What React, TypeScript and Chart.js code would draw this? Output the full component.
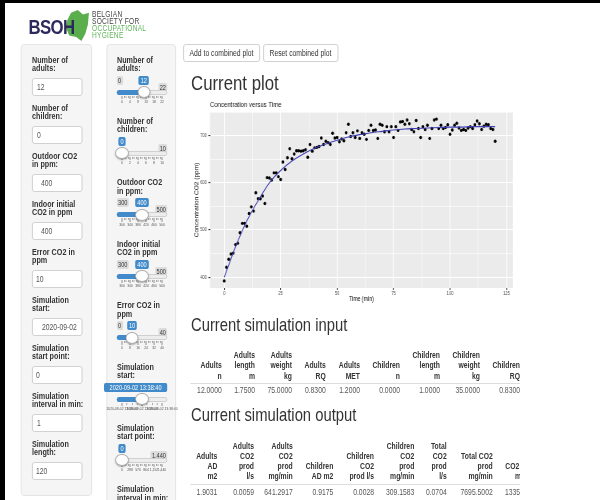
import React, { useEffect, useRef } from "react";
import { Chart, registerables } from "chart.js";
Chart.register(...registerables);

const FONT = '"Liberation Sans", Arial, Helvetica, sans-serif';
const S = 0.8;
const X = (x: number) => x / S;

// ---------- chart data ----------
const timeMin = [
  0, 1, 2, 3, 4, 5, 6, 7, 8, 9, 10, 11, 12, 13, 14, 15, 16, 17, 18, 19, 20,
  21, 22, 23, 24, 25, 26, 27, 28, 29, 30, 31, 32, 33, 34, 35, 36, 37, 38, 39, 40,
  41, 42, 43, 44, 45, 46, 47, 48, 49, 50, 51, 52, 53, 54, 55, 56, 57, 58, 59, 60,
  61, 62, 63, 64, 65, 66, 67, 68, 69, 70, 71, 72, 73, 74, 75, 76, 77, 78, 79, 80,
  81, 82, 83, 84, 85, 86, 87, 88, 89, 90, 91, 92, 93, 94, 95, 96, 97, 98, 99, 100,
  101, 102, 103, 104, 105, 106, 107, 108, 109, 110, 111, 112, 113, 114, 115, 116, 117, 118, 119, 120,
];
const co2Ppm = [
  392, 421, 438, 449, 451, 469, 472, 494, 514, 514, 508, 535, 549, 540, 579, 566, 566, 572, 556, 611, 610,
  606, 621, 621, 613, 607, 644, 628, 653, 672, 651, 661, 668, 668, 667, 668, 670, 654, 681, 667, 674,
  675, 677, 695, 681, 688, 685, 681, 705, 695, 696, 687, 693, 689, 706, 724, 698, 706, 696, 710, 694,
  706, 703, 692, 711, 722, 711, 712, 694, 724, 722, 708, 719, 708, 719, 696, 719, 711, 729, 730, 724,
  733, 725, 713, 708, 732, 715, 696, 719, 713, 722, 694, 715, 733, 735, 715, 722, 715, 717, 723, 703,
  712, 722, 726, 716, 711, 713, 711, 716, 719, 715, 723, 731, 725, 713, 720, 724, 723, 715, 713, 688,
];
const fitTime = [0, 5, 10, 15, 20, 25, 30, 35, 40, 45, 50, 55, 60, 65, 70, 75, 80, 85, 90, 95, 100, 105, 110, 115, 120];
const fitPpm = [400, 464, 519, 562, 600, 626, 646, 661, 673, 682, 690, 697, 702, 706, 709, 712, 714, 715, 716, 717, 718, 718, 719, 719, 719];
const xTickValues = [0, 25, 50, 75, 100, 125];
const xMinorValues = [12.5, 37.5, 62.5, 87.5, 112.5];
const yTickValues = [400, 500, 600, 700];
const yMinorValues = [450, 550, 650, 750];

// ---------- page data ----------
const leftLabels = [
  ["Number of", "adults:"],
  ["Number of", "children:"],
  ["Outdoor CO2", "in ppm:"],
  ["Indoor initial", "CO2 in ppm"],
  ["Error CO2 in", "ppm"],
  ["Simulation", "start:"],
  ["Simulation", "start point:"],
  ["Simulation", "interval in min:"],
  ["Simulation", "length:"],
];
const leftValues = ["12", "0", "400", "400", "10", "2020-09-02", "0", "1", "120"];

const sliderLabels = [
  ["Number of", "adults:"],
  ["Number of", "children:"],
  ["Outdoor CO2", "in ppm:"],
  ["Indoor initial", "CO2 in ppm"],
  ["Error CO2 in", "ppm"],
  ["Simulation", "start:"],
  ["Simulation", "start point:"],
  ["Simulation", "interval in min:"],
];
const sliderFrac = [12 / 22, 0, 0.5, 0.5, 0.25, 0.5, 0];
const sliderValue = ["12", "0", "400", "400", "10", "2020-09-02 13:38:40", "0"];
const sliderMin = ["0", "0", "300", "300", "0", "", "0"];
const sliderMax = ["22", "10", "500", "500", "40", "", "1,440"];
const sliderGrid = [
  ["0", "4", "9", "13", "18", "22"],
  ["0", "2", "4", "6", "8", "10"],
  ["300", "340", "380", "420", "460", "500"],
  ["300", "340", "380", "420", "460", "500"],
  ["0", "8", "16", "24", "32", "40"],
  ["2020-09-02 13:38:40", "2020-09-02 13:38:40", "2020-09-02 13:38:40"],
  ["0", "288", "576", "864", "1,152", "1,440"],
];

const inputHeaders = [
  ["", "Adults", "n"], ["Adults", "length", "m"], ["Adults", "weight", "kg"],
  ["", "Adults", "RQ"], ["", "Adults", "MET"], ["", "Children", "n"],
  ["Children", "length", "m"], ["Children", "weight", "kg"], ["", "Children", "RQ"],
];
const inputValues = ["12.0000", "1.7500", "75.0000", "0.8300", "1.2000", "0.0000", "1.0000", "35.0000", "0.8300"];
const outputHeaders = [
  ["", "Adults", "AD", "m2"], ["Adults", "CO2", "prod", "l/s"], ["Adults", "CO2", "prod", "mg/min"],
  ["", "", "Children", "AD m2"], ["", "Children", "CO2", "prod l/s"], ["Children", "CO2", "prod", "mg/min"],
  ["Total", "CO2", "prod", "l/s"], ["", "Total CO2", "prod", "mg/min"], ["", "", "CO2 conc", "mg/m3"],
];
const outputValues = ["1.9031", "0.0059", "641.2917", "0.9175", "0.0028", "309.1583", "0.0704", "7695.5002", "1335"];

// ---------- layout (positions only) ----------
const inputRight = [221.7, 255, 292, 325.7, 360, 400, 440, 480, 520];
const outputRight = [217.3, 254, 292.7, 333.3, 374, 414.3, 446.7, 492.7, 537];
const leftValueX = [37, 37, 41, 41, 36, 42, 36, 37, 36];

type TP = {
  x: number; y: number; t: string; size: number; bold?: boolean; color?: string;
  align?: "left" | "right" | "center"; ls?: number;
};
function T({ x, y, t, size, bold, color = "#333", align = "left", ls = 0 }: TP) {
  const W = 400;
  let left = X(x);
  if (align === "right") left = X(x) - W;
  if (align === "center") left = X(x) - W / 2;
  return (
    <div
      style={{
        position: "absolute", left, top: y - size * 0.5,
        width: align === "left" ? undefined : W, textAlign: align,
        fontSize: size, lineHeight: `${size}px`, fontWeight: bold ? 700 : 400,
        color, whiteSpace: "nowrap", letterSpacing: ls, fontFamily: FONT,
      }}
    >
      {t}
    </div>
  );
}

function Box({ x, y, w, h, style }: { x: number; y: number; w: number; h: number; style?: any }) {
  return <div style={{ position: "absolute", left: X(x), top: y, width: X(w), height: h, boxSizing: "border-box", ...style }} />;
}

function Slider({ L, frac, val, min, max, grid }: { L: number; frac: number; val: string; min: string; max: string; grid: string[] }) {
  const ty = L + 32;
  const hx = 122 + frac * 40;
  const bw = val.length * 3.1 + 4;
  let bc = Math.max(hx, 117 + bw / 2);
  bc = Math.min(bc, 167 - bw / 2);
  const showMin = min !== "" && bc - bw / 2 > 117 + min.length * 3.1 + 5;
  const showMax = max !== "" && bc + bw / 2 < 167 - max.length * 3.1 - 5;
  const majors = grid.length;
  const gridX = (i: number) => 122 + (i * 40) / (majors - 1);
  const minorTicks: number[] = [];
  for (let i = 0; i < majors - 1; i++) {
    for (let k = 1; k < 4; k++) minorTicks.push(gridX(i) + ((gridX(i + 1) - gridX(i)) * k) / 4);
  }
  return (
    <>
      {showMin && (
        <div style={{ position: "absolute", left: X(116.5), top: L + 15.5, height: 9, lineHeight: "9px", fontSize: 7, padding: "0 2px", background: "rgba(0,0,0,0.1)", color: "#333", borderRadius: 2, fontFamily: FONT }}>{min}</div>
      )}
      {showMax && (
        <div style={{ position: "absolute", left: X(167.5) - 100, width: 100, textAlign: "right", top: L + 15.5, height: 9 }}>
          <span style={{ display: "inline-block", height: 9, lineHeight: "9px", fontSize: 7, padding: "0 2px", background: "rgba(0,0,0,0.1)", color: "#333", borderRadius: 2, fontFamily: FONT }}>{max}</span>
        </div>
      )}
      <div style={{ position: "absolute", left: X(bc - bw / 2), width: X(bw), top: L + 15.5, height: 9, lineHeight: "9px", fontSize: 7, textAlign: "center", background: "#428bca", color: "#fff", borderRadius: 2, fontFamily: FONT, whiteSpace: "nowrap" }}>{val}</div>
      <Box x={117} y={ty - 2.5} w={50} h={5} style={{ background: "#ededed", border: "1px solid #cccccc", borderRadius: 4 }} />
      <Box x={117} y={ty - 2.5} w={hx - 117} h={5} style={{ background: "#428bca", borderRadius: "4px 0 0 4px" }} />
      {grid.map((g, i) => (
        <React.Fragment key={"g" + i}>
          <Box x={gridX(i) - 0.3} y={ty + 3.5} w={0.6} h={3.5} style={{ background: "#777" }} />
          <T x={gridX(i)} y={ty + 10} t={g} size={4.2} color="#555" align="center" />
        </React.Fragment>
      ))}
      {minorTicks.map((m, i) => (
        <Box key={"m" + i} x={m - 0.25} y={ty + 3.5} w={0.5} h={2} style={{ background: "#999" }} />
      ))}
      <Box x={hx - 6.5} y={ty - 6} w={13} h={12} style={{ background: "#fdfdfd", border: "1px solid #ababab", borderRadius: "50%", boxShadow: "0 1px 2px rgba(0,0,0,0.3)" }} />
    </>
  );
}

function CO2Chart() {
  const ref = useRef<HTMLCanvasElement>(null);
  useEffect(() => {
    if (!ref.current) return;
    const isMajorX = (v: any) => xTickValues.includes(v);
    const isMajorY = (v: any) => yTickValues.includes(v);
    const xAll = [...xTickValues, ...xMinorValues].sort((a, b) => a - b);
    const yAll = [...yTickValues, ...yMinorValues].sort((a, b) => a - b);
    const panelBg = {
      id: "panelBg",
      beforeDraw(chart: any) {
        const { ctx, chartArea: a } = chart;
        ctx.save();
        ctx.fillStyle = "#EBEBEB";
        ctx.fillRect(a.left, a.top, a.right - a.left, a.bottom - a.top);
        ctx.restore();
      },
    };
    const chart = new Chart(ref.current, {
      type: "scatter",
      data: {
        datasets: [
          {
            label: "fit",
            data: fitTime.map((t, i) => ({ x: t, y: fitPpm[i] })),
            showLine: true,
            borderColor: "#4040b4",
            borderWidth: 1.1,
            pointRadius: 0,
            cubicInterpolationMode: "monotone",
            order: 0,
          } as any,
          {
            label: "CO2",
            data: timeMin.map((t, i) => ({ x: t, y: co2Ppm[i] })),
            backgroundColor: "#000",
            borderWidth: 0,
            pointRadius: 1.7,
            order: 1,
          },
        ],
      },
      options: {
        responsive: false,
        maintainAspectRatio: false,
        animation: false,
        layout: { padding: { left: 0, right: 6, top: 0, bottom: 0 } },
        plugins: {
          legend: { display: false },
          tooltip: { enabled: false },
          title: {
            display: true,
            text: "Concentration versus Time",
            align: "start",
            fullSize: false,
            color: "#111",
            font: { size: 7.5, weight: "normal", family: FONT },
            padding: { top: 3, bottom: 3 },
          } as any,
        },
        scales: {
          x: {
            type: "linear",
            min: -6.3,
            max: 127.8,
            afterBuildTicks: (axis: any) => { axis.ticks = xAll.map((v) => ({ value: v })); },
            afterFit: (axis: any) => { axis.height = 15; },
            border: { display: false },
            grid: {
              color: "#ffffff",
              lineWidth: (c: any) => (isMajorX(c.tick?.value) ? 1.1 : 0.55),
              tickColor: (c: any) => (isMajorX(c.tick?.value) ? "#333" : "rgba(0,0,0,0)"),
              tickLength: 2,
            },
            ticks: {
              autoSkip: false, maxRotation: 0, padding: 1,
              font: { size: 5, family: FONT }, color: "#4d4d4d",
              callback: (v: any) => (isMajorX(v) ? String(v) : ""),
            },
            title: { display: true, text: "Time (min)", color: "#000", font: { size: 6.5, family: FONT }, padding: { top: 0, bottom: 0 } },
          },
          y: {
            type: "linear",
            min: 377,
            max: 750,
            afterBuildTicks: (axis: any) => { axis.ticks = yAll.map((v) => ({ value: v })); },
            afterFit: (axis: any) => { axis.width = 27.5; },
            border: { display: false },
            grid: {
              color: "#ffffff",
              lineWidth: (c: any) => (isMajorY(c.tick?.value) ? 1.1 : 0.55),
              tickColor: (c: any) => (isMajorY(c.tick?.value) ? "#333" : "rgba(0,0,0,0)"),
              tickLength: 2,
            },
            ticks: {
              autoSkip: false, padding: 2,
              font: { size: 5, family: FONT }, color: "#4d4d4d",
              callback: (v: any) => (isMajorY(v) ? String(v) : ""),
            },
            title: { display: true, text: "Concentration CO2 (ppm)", color: "#000", font: { size: 6.5, family: FONT }, padding: { top: 7, bottom: 0 } },
          },
        },
      },
      plugins: [panelBg],
    });
    return () => chart.destroy();
  }, []);
  return (
    <canvas
      ref={ref}
      width={412}
      height={206}
      style={{ position: "absolute", left: X(188), top: 97, width: 412, height: 206 }}
    />
  );
}

export default function App() {
  const sliderL = [60, 121.4, 182.8, 244.2, 305.6, 367, 428.4, 489.8];
  return (
    <div style={{ position: "fixed", left: 0, top: 0, width: 600, height: 500, overflow: "hidden", background: "#fff", fontFamily: FONT }}>
      <div style={{ position: "absolute", left: 0, top: 0, width: 600 / S, height: 500, transform: `scaleX(${S})`, transformOrigin: "0 0" }}>
        {/* logo */}
        <div
          style={{
            position: "absolute", left: X(64), top: 9, width: X(26), height: 33, background: "#5aae4b",
            clipPath: "polygon(27% 11%, 53% 3%, 73% 17%, 96% 11%, 92% 47%, 82% 75%, 67% 97%, 47% 85%, 20% 80%, 7% 56%, 13% 33%)",
          }}
        />
        <T x={28.5} y={26} t="BSOH" size={21} bold color="#2c295c" ls={-0.8} />
        <T x={92} y={14.5} t="BELGIAN" size={8.3} color="#444" ls={0.3} />
        <T x={92} y={21} t="SOCIETY FOR" size={8.3} color="#444" ls={0.3} />
        <T x={92} y={28} t="OCCUPATIONAL" size={8.3} color="#5fb35a" ls={0.3} />
        <T x={92} y={35} t="HYGIENE" size={8.3} color="#5fb35a" ls={0.3} />

        {/* left panel */}
        <Box x={21} y={44} w={71} h={452} style={{ background: "#f5f5f5", border: "1px solid #e3e3e3", borderRadius: 4 }} />
        {leftLabels.map((lab, k) => {
          const L = 60 + 48 * k;
          return (
            <React.Fragment key={"l" + k}>
              <T x={32} y={L} t={lab[0]} size={9} bold />
              <T x={32} y={L + 8.5} t={lab[1]} size={9} bold />
              <Box x={32} y={L + 18} w={50} h={18} style={{ background: "#fff", border: "1px solid #cccccc", borderRadius: 3 }} />
              <T x={leftValueX[k]} y={L + 27} t={leftValues[k]} size={8.5} color="#555" />
            </React.Fragment>
          );
        })}

        {/* slider panel */}
        <Box x={106} y={44} w={70} h={470} style={{ background: "#f5f5f5", border: "1px solid #e3e3e3", borderRadius: 4 }} />
        {sliderLabels.map((lab, k) => {
          const L = sliderL[k];
          return (
            <React.Fragment key={"s" + k}>
              <T x={117} y={L} t={lab[0]} size={9} bold />
              <T x={117} y={L + 8.5} t={lab[1]} size={9} bold />
              {k < sliderValue.length && (
                <Slider L={L} frac={sliderFrac[k]} val={sliderValue[k]} min={sliderMin[k]} max={sliderMax[k]} grid={sliderGrid[k]} />
              )}
            </React.Fragment>
          );
        })}

        {/* buttons */}
        <Box x={183} y={44} w={77} h={18} style={{ background: "#fff", border: "1px solid #cccccc", borderRadius: 3 }} />
        <T x={221.5} y={53} t="Add to combined plot" size={8.5} align="center" />
        <Box x={263} y={44} w={75} h={18} style={{ background: "#fff", border: "1px solid #cccccc", borderRadius: 3 }} />
        <T x={300.5} y={53} t="Reset combined plot" size={8.5} align="center" />

        {/* plot */}
        <T x={191} y={82} t="Current plot" size={21} />
        <CO2Chart />

        {/* tables */}
        <T x={191} y={325} t="Current simulation input" size={18.5} />
        <T x={191} y={415} t="Current simulation output" size={18.5} />
        <div style={{ position: "absolute", left: X(185), top: 340, width: X(335), height: 160, overflow: "hidden" }}>
          <div style={{ position: "absolute", left: -X(185), top: -340, width: 600 / S, height: 500 }}>
            <Box x={190} y={383} w={330} h={1} style={{ background: "#dddddd" }} />
            {inputHeaders.map((h, c) => (
              <React.Fragment key={"ih" + c}>
                {h.map((line, r) => (line ? <T key={r} x={inputRight[c]} y={355 + r * 10.5} t={line} size={8.5} bold align="right" /> : null))}
                <T x={inputRight[c]} y={390} t={inputValues[c]} size={8.5} color="#555" align="right" />
              </React.Fragment>
            ))}
            <Box x={190} y={484} w={330} h={1} style={{ background: "#dddddd" }} />
            {outputHeaders.map((h, c) => (
              <React.Fragment key={"oh" + c}>
                {h.map((line, r) => (line ? <T key={r} x={outputRight[c]} y={446.7 + r * 10} t={line} size={8.5} bold align="right" /> : null))}
                <T x={c === 8 ? 505 : outputRight[c]} y={492.7} t={outputValues[c]} size={8.5} color="#555" align={c === 8 ? "left" : "right"} />
              </React.Fragment>
            ))}
          </div>
        </div>
      </div>
      {/* black edges */}
      <div style={{ position: "absolute", left: 0, top: 0, width: 600, height: 3, background: "#000" }} />
      <div style={{ position: "absolute", left: 0, top: 0, width: 5, height: 500, background: "#000" }} />
    </div>
  );
}
